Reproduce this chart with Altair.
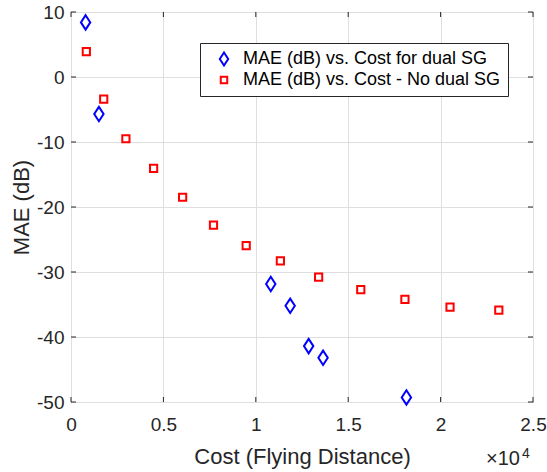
import altair as alt
import pandas as pd

# ---- data ----
dual_label = "MAE (dB) vs. Cost for dual SG"
nodual_label = "MAE (dB) vs. Cost - No dual SG"

dual_cost = [790, 1510, 10810, 11860, 12860, 13640, 18150]
dual_mae = [8.4, -5.7, -31.85, -35.2, -41.4, -43.2, -49.3]

nodual_cost = [830, 1770, 2970, 4470, 6040, 7710, 9480, 11330, 13400, 15680, 18070, 20510, 23150]
nodual_mae = [3.9, -3.4, -9.5, -14.05, -18.5, -22.8, -25.95, -28.3, -30.8, -32.7, -34.2, -35.4, -35.85]

x_ticks = [0, 5000, 10000, 15000, 20000, 25000]
y_ticks = [-50, -40, -30, -20, -10, 0, 10]

FONT = "Liberation Sans"
INK = "#262626"
W, H = 462, 390

df = pd.DataFrame({
    "series": [dual_label] * len(dual_cost) + [nodual_label] * len(nodual_cost),
    "cost": dual_cost + nodual_cost,
    "mae": dual_mae + nodual_mae,
})

diamond = "M0,-2L1.3,0L0,2L-1.3,0Z"
square = "M-1,-1H1V1H-1Z"

x_scale = alt.Scale(domain=[0, 25000], nice=False, zero=False)
y_scale = alt.Scale(domain=[-50, 10], nice=False, zero=False)

points = alt.Chart(df).mark_point(filled=False, strokeWidth=2, size=52, opacity=1).encode(
    x=alt.X("cost:Q", scale=x_scale,
            axis=alt.Axis(values=x_ticks, title="Cost (Flying Distance)",
                          labelExpr="format(datum.value/10000, '~g')",
                          grid=True, ticks=False, domain=False,
                          labelFlush=False, labelOverlap=False, labelBound=False,
                          labelPadding=13, labelFontSize=19, labelColor=INK, labelFont=FONT,
                          titleFontSize=22, titleFont=FONT, titleColor=INK, titleFontWeight="normal",
                          titleBaseline="alphabetic", titleY=61, titleX=W / 2)),
    y=alt.Y("mae:Q", scale=y_scale,
            axis=alt.Axis(values=y_ticks, title="MAE (dB)",
                          labelExpr="'' + datum.value",
                          grid=True, ticks=False, domain=False,
                          labelFlush=False, labelOverlap=False,
                          labelPadding=7, labelFontSize=19, labelColor=INK, labelFont=FONT,
                          titleFontSize=22, titleFont=FONT, titleColor=INK, titleFontWeight="normal",
                          titleBaseline="alphabetic", titleX=-43, titleY=H / 2, titleAngle=-90)),
    color=alt.Color("series:N",
                    scale=alt.Scale(domain=[dual_label, nodual_label], range=["#0000ff", "#ff0000"]),
                    legend=alt.Legend(title=None, orient="none", legendX=129, legendY=31,
                                      fillColor="white", strokeColor=INK,
                                      padding=7, cornerRadius=0, rowPadding=1,
                                      symbolSize=42, symbolStrokeWidth=2, symbolOffset=8,
                                      labelOffset=10, labelFontSize=18, labelFont=FONT,
                                      labelColor="black", labelLimit=400)),
    shape=alt.Shape("series:N",
                    scale=alt.Scale(domain=[dual_label, nodual_label], range=[diamond, square]),
                    legend=alt.Legend(title=None)),
)

xt = pd.DataFrame({"cost": x_ticks})
yt = pd.DataFrame({"mae": y_ticks})

tick_b = alt.Chart(xt).mark_rule(color=INK, strokeWidth=1).encode(
    x=alt.X("cost:Q", scale=x_scale), y=alt.value(H), y2=alt.value(H - 5))
tick_t = alt.Chart(xt).mark_rule(color=INK, strokeWidth=1).encode(
    x=alt.X("cost:Q", scale=x_scale), y=alt.value(0), y2=alt.value(5))
tick_l = alt.Chart(yt).mark_rule(color=INK, strokeWidth=1).encode(
    y=alt.Y("mae:Q", scale=y_scale), x=alt.value(0), x2=alt.value(5))
tick_r = alt.Chart(yt).mark_rule(color=INK, strokeWidth=1).encode(
    y=alt.Y("mae:Q", scale=y_scale), x=alt.value(W), x2=alt.value(W - 5))

exp_base = alt.Chart(pd.DataFrame({"t": ["×10"]})).mark_text(
    align="left", baseline="alphabetic", font=FONT, fontSize=20, color=INK).encode(
    text="t:N", x=alt.value(415), y=alt.value(453))
exp_sup = alt.Chart(pd.DataFrame({"t": ["4"]})).mark_text(
    align="left", baseline="alphabetic", font=FONT, fontSize=14, color=INK).encode(
    text="t:N", x=alt.value(451), y=alt.value(446))

chart = alt.layer(points, tick_b, tick_t, tick_l, tick_r, exp_base, exp_sup).properties(
    width=W, height=H,
    autosize="none",
    padding={"left": 71, "top": 12, "right": 14, "bottom": 70},
    background="white",
).configure_view(stroke=INK, strokeWidth=1).configure_axis(
    gridColor="#dfdfdf", gridWidth=1, gridOpacity=1
)

chart.save("out.html", embed_options={"renderer": "svg", "actions": False})
